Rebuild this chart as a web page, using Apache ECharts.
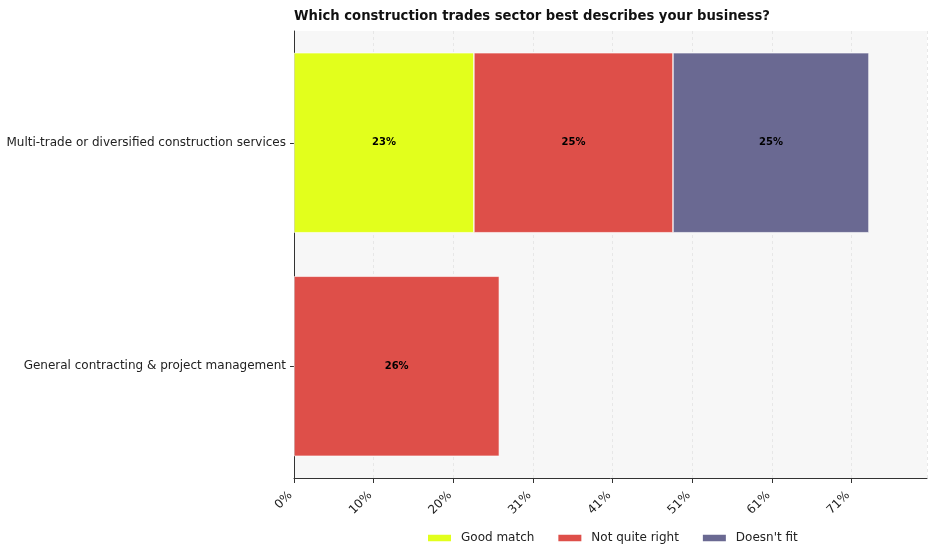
<!DOCTYPE html>
<html>
<head>
<meta charset="utf-8">
<script src="https://cdn.jsdelivr.net/npm/echarts@6/dist/echarts.min.js"></script>
<style>html,body{margin:0;padding:0;background:#fff}#c{width:936px;height:558px}</style>
</head>
<body>
<div id="c"></div>
<script>
const titleText = 'Which construction trades sector best describes your business?';
const categories = ['Multi-trade or diversified construction services', 'General contracting & project management'];
const seriesNames = ['Good match', 'Not quite right', "Doesn't fit"];
const goodMatch = [23.0, null];
const notQuiteRight = [25.45, 26.25];
const doesntFit = [25.05, null];
const tickStep = 10.18;
const axisMax = 80.92;
const tickLabels = ['0%', '10%', '20%', '31%', '41%', '51%', '61%', '71%'];
const colors = ['#e2ff1c', '#de4f49', '#6a6992'];

const font = 'DejaVu Sans';
const chart = echarts.init(document.getElementById('c'), null, {renderer: 'canvas'});
const dataSets = [goodMatch, notQuiteRight, doesntFit];

chart.setOption({
  animation: false,
  textStyle: {fontFamily: font},
  title: {
    text: titleText, left: 294, top: 10, padding: 0,
    textStyle: {fontFamily: font, fontSize: 13.2, fontWeight: 'bold', color: '#111'}
  },
  legend: {
    data: seriesNames, left: 421, top: 527,
    itemWidth: 25, itemHeight: 8.5, itemGap: 22,
    icon: 'rect',
    textStyle: {fontFamily: font, fontSize: 12, color: '#222', padding: [0, 0, 0, 4]}
  },
  grid: {
    left: 294, top: 31, right: 9, bottom: 80,
    show: true, backgroundColor: '#f7f7f7', borderWidth: 0, containLabel: false
  },
  xAxis: {
    type: 'value', min: 0, max: axisMax, interval: tickStep,
    axisLine: {show: true, lineStyle: {color: '#333', width: 1}},
    axisTick: {show: true, length: 5, lineStyle: {color: '#333'}},
    splitLine: {show: true, lineStyle: {color: '#e2e2e2', type: [3, 3], width: 0.8}},
    axisLabel: {
      rotate: 45, margin: 12, fontFamily: font, fontSize: 12, color: '#222',
      padding: [0, 5, 0, 0],
      showMaxLabel: false,
      formatter: function (v) {
        const i = Math.round(v / tickStep);
        if (Math.abs(v / tickStep - i) > 1e-6) return '';
        return tickLabels[i] !== undefined ? tickLabels[i] : '';
      }
    }
  },
  yAxis: {
    type: 'category', data: categories, inverse: true,
    axisLine: {show: true, lineStyle: {color: '#333', width: 1}},
    axisTick: {show: true, length: 4, alignWithLabel: true, lineStyle: {color: '#333'}},
    axisLabel: {fontFamily: font, fontSize: 12, color: '#222', margin: 8},
    splitLine: {show: false}
  },
  series: seriesNames.map((name, k) => ({
    name: name, type: 'bar', stack: 'total',
    data: dataSets[k],
    barWidth: 180,
    itemStyle: {color: colors[k], borderColor: '#ffffff', borderWidth: 0.6},
    label: {
      show: true, position: 'inside', color: '#000',
      fontFamily: font, fontSize: 10, fontWeight: 'bold',
      formatter: p => (p.value == null ? '' : Math.round(p.value) + '%')
    }
  }))
});
</script>
</body>
</html>
